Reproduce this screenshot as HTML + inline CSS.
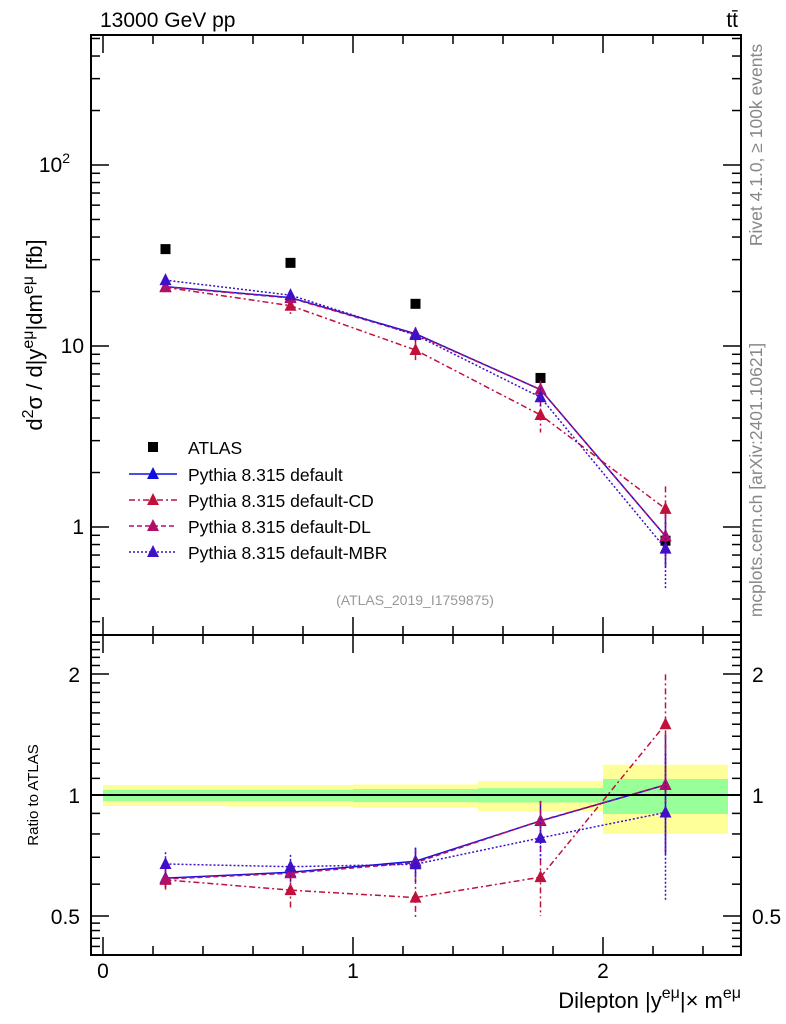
<!DOCTYPE html>
<html><head><meta charset="utf-8"><style>
body{margin:0;background:#fff}
svg{display:block;font-family:"Liberation Sans",sans-serif}
</style></head><body>
<svg id="c" width="786" height="1024" viewBox="0 0 786 1024" xmlns="http://www.w3.org/2000/svg">
<g id="bands"></g>
<g id="ticks"></g>
<g id="series"></g>
<rect x="91" y="35" width="650" height="600" fill="none" stroke="#000" stroke-width="2"/>
<rect x="91" y="635" width="650" height="320" fill="none" stroke="#000" stroke-width="2"/>
<line x1="91" x2="741" y1="795" y2="795" stroke="#000" stroke-width="2"/>
<text x="100" y="27" font-size="21">13000 GeV pp</text>
<text x="738" y="27" font-size="21" text-anchor="end">tt̄</text>
<text transform="translate(762,145) rotate(-90)" font-size="17.5" fill="#888" text-anchor="middle">Rivet 4.1.0, ≥ 100k events</text>
<text transform="translate(762,480) rotate(-90)" font-size="17.5" fill="#888" text-anchor="middle">mcplots.cern.ch [arXiv:2401.10621]</text>
<text transform="translate(42,335) rotate(-90)" font-size="22" text-anchor="middle">d<tspan font-size="16" dy="-9">2</tspan><tspan dy="9">σ / d|y</tspan><tspan font-size="16" dy="-9">eμ</tspan><tspan dy="9">|dm</tspan><tspan font-size="16" dy="-9">eμ</tspan><tspan dy="9"> [fb]</tspan></text>
<text transform="translate(38,795) rotate(-90)" font-size="15" text-anchor="middle">Ratio to ATLAS</text>
<text x="741" y="1008" font-size="22" text-anchor="end">Dilepton |y<tspan font-size="16" dy="-10">eμ</tspan><tspan dy="10">|× m</tspan><tspan font-size="16" dy="-10">eμ</tspan></text>
<text x="415" y="605" font-size="14" fill="#999" text-anchor="middle">(ATLAS_2019_I1759875)</text>
<g id="legend"></g>
</svg>
<script>
const NS="http://www.w3.org/2000/svg";
const xBins=[0,0.5,1,1.5,2,2.5];
const xCenters=[0.25,0.75,1.25,1.75,2.25];
const atlas=[34.3,28.8,17.1,6.66,0.84];
const bandTotUp=[1.059,1.059,1.062,1.083,1.19];
const bandTotDn=[0.939,0.935,0.93,0.912,0.80];
const bandStatUp=[1.03,1.03,1.035,1.04,1.096];
const bandStatDn=[0.966,0.966,0.96,0.958,0.897];
const mcDefault=[21.3,18.5,11.7,5.74,0.89];
const mcCD=[21.1,16.7,9.5,4.16,1.26];
const mcDL=[21.2,18.4,11.6,5.75,0.89];
const mcMBR=[23.1,19.1,11.5,5.21,0.76];
const errDefault=[0.05,0.05,0.08,0.12,0.33];
const errCD=[0.06,0.1,0.12,0.2,0.33];
const errDL=[0.05,0.05,0.08,0.12,0.33];
const errMBR=[0.07,0.07,0.1,0.12,0.4];
const mainTickLabels=["1","10","10²"];
const ratioTickVals=[0.5,1,2];
const xTickVals=[0,1,2];

const X=v=>103+250*v;
const Y=v=>527-181*Math.log10(v);
const R=v=>795-121*Math.log2(v);
function el(t,a,p){const e=document.createElementNS(NS,t);for(const k in a)e.setAttribute(k,a[k]);(p||document.getElementById('c')).appendChild(e);return e;}
const bands=document.getElementById('bands'),ticks=document.getElementById('ticks'),ser=document.getElementById('series'),leg=document.getElementById('legend');

for(let i=0;i<5;i++){
  let r=el('rect',{x:X(xBins[i]),y:R(bandTotUp[i]),width:X(xBins[i+1])-X(xBins[i]),height:R(bandTotDn[i])-R(bandTotUp[i]),fill:'#ffff99'},bands);
  
  
  let g=el('rect',{x:X(xBins[i]),y:R(bandStatUp[i]),width:X(xBins[i+1])-X(xBins[i]),height:R(bandStatDn[i])-R(bandStatUp[i]),fill:'#99ff99'},bands);
  
  
}
for(let d=-1;d<=2;d++){for(let m=1;m<10;m++){const v=m*Math.pow(10,d);const y=Y(v);if(y<35||y>635)continue;const L=m==1?18:9;
  el('line',{x1:91,x2:91+L,y1:y,y2:y,stroke:'#000','stroke-width':1.5},ticks);
  el('line',{x1:741,x2:741-L,y1:y,y2:y,stroke:'#000','stroke-width':1.5},ticks);}}
[1,10,100].forEach((v,i)=>{
  const t=el('text',{x:84,y:Y(v)+7,'font-size':21,'text-anchor':'end'},ticks);
  t.textContent=i<2?mainTickLabels[i]:'10';
  if(i==2){const s=el('tspan',{'font-size':14,dy:-9},t);s.textContent='2';t.setAttribute('x',70);}
  
  
});
const rminor=[0.5,0.6,0.7,0.8,0.9,1,1.1,1.2,1.3,1.4,1.5,1.6,1.7,1.8,1.9,2];
rminor.forEach(v=>{const y=R(v);const L=ratioTickVals.includes(v)?18:9;
  el('line',{x1:91,x2:91+L,y1:y,y2:y,stroke:'#000','stroke-width':1.5},ticks);
  el('line',{x1:741,x2:741-L,y1:y,y2:y,stroke:'#000','stroke-width':1.5},ticks);});
[0.42,0.44,0.46,0.48,2.1,2.2,2.3,2.4].forEach(v=>{const y=R(v);
  el('line',{x1:91,x2:100,y1:y,y2:y,stroke:'#000','stroke-width':1.5},ticks);
  el('line',{x1:741,x2:732,y1:y,y2:y,stroke:'#000','stroke-width':1.5},ticks);});
ratioTickVals.forEach(v=>{
  const a=el('text',{x:80,y:R(v)+8,'font-size':21,'text-anchor':'end'},ticks);a.textContent=String(v);
  
  
  const b=el('text',{x:752,y:R(v)+8,'font-size':21},ticks);b.textContent=String(v);
  
  
});
for(let k=0;k<=12;k++){const v=k*0.2;const x=X(v);const major=Math.abs(v-Math.round(v))<1e-6;const L=major?18:9;
  el('line',{x1:x,x2:x,y1:955,y2:955-L,stroke:'#000','stroke-width':1.5},ticks);
  el('line',{x1:x,x2:x,y1:635,y2:635+L,stroke:'#000','stroke-width':1.5},ticks);
  el('line',{x1:x,x2:x,y1:635,y2:635-L,stroke:'#000','stroke-width':1.5},ticks);
  el('line',{x1:x,x2:x,y1:35,y2:35+L,stroke:'#000','stroke-width':1.5},ticks);}
xTickVals.forEach(v=>{const t=el('text',{x:X(v),y:978,'font-size':21,'text-anchor':'middle'},ticks);t.textContent=String(v);
  
  });

atlas.forEach((v,i)=>{const r=el('rect',{x:X(xCenters[i])-5,y:Y(v)-5,width:10,height:10,fill:'#000'},ser);
  
  });

const series=[
 {name:'default',vals:mcDefault,err:errDefault,color:'#1010e0',dash:'',label:'Pythia 8.315 default'},
 {name:'default-cd',vals:mcCD,err:errCD,color:'#c0103c',dash:'6,3,2,3',label:'Pythia 8.315 default-CD'},
 {name:'default-dl',vals:mcDL,err:errDL,color:'#b01068',dash:'5,3',label:'Pythia 8.315 default-DL'},
 {name:'default-mbr',vals:mcMBR,err:errMBR,color:'#4010c8',dash:'2,2',label:'Pythia 8.315 default-MBR'}];
function tri(x,y,c,p,n){const t=el('polygon',{points:`${x},${y-7} ${x-6},${y+5} ${x+6},${y+5}`,fill:c},p);
  
  }
series.forEach(s=>{
  const g=el('g',{},ser);
  
  
  const main=s.vals.map((v,i)=>X(xCenters[i])+','+Y(v)).join(' ');
  const rat=s.vals.map((v,i)=>X(xCenters[i])+','+R(v/atlas[i])).join(' ');
  const a={fill:'none',stroke:s.color,'stroke-width':1.5};if(s.dash)a['stroke-dasharray']=s.dash;
  const l1=el('polyline',Object.assign({points:main},a),g);
  
  
  const l2=el('polyline',Object.assign({points:rat},a),g);
  
  
  s.vals.forEach((v,i)=>{const x=X(xCenters[i]);const e=s.err[i];
    el('line',Object.assign({x1:x,x2:x,y1:Y(v*(1+e)),y2:Y(v*(1-e))},a),g);
    const r=v/atlas[i];
    el('line',Object.assign({x1:x,x2:x,y1:R(r*(1+e)),y2:R(r*(1-e))},a),g);
    tri(x,Y(v),s.color,g,'marker-main-'+s.name);
    tri(x,R(r),s.color,g,'marker-ratio-'+s.name);});
});
const ly=[447,474,500,526,552];
el('rect',{x:148,y:ly[0]-5,width:10,height:10,fill:'#000'},leg);
let t0=el('text',{x:188,y:ly[0]+7,'font-size':17.5},leg);t0.textContent='ATLAS';


series.forEach((s,i)=>{const y=ly[i+1];const a={stroke:s.color,'stroke-width':1.5};if(s.dash)a['stroke-dasharray']=s.dash;
  el('line',Object.assign({x1:129,x2:177,y1:y,y2:y},a),leg);
  tri(153,y,s.color,leg,'legend-marker-'+s.name);
  const t=el('text',{x:188,y:y+7,'font-size':17.5},leg);t.textContent=s.label;
  
  });
</script>
</body></html>
